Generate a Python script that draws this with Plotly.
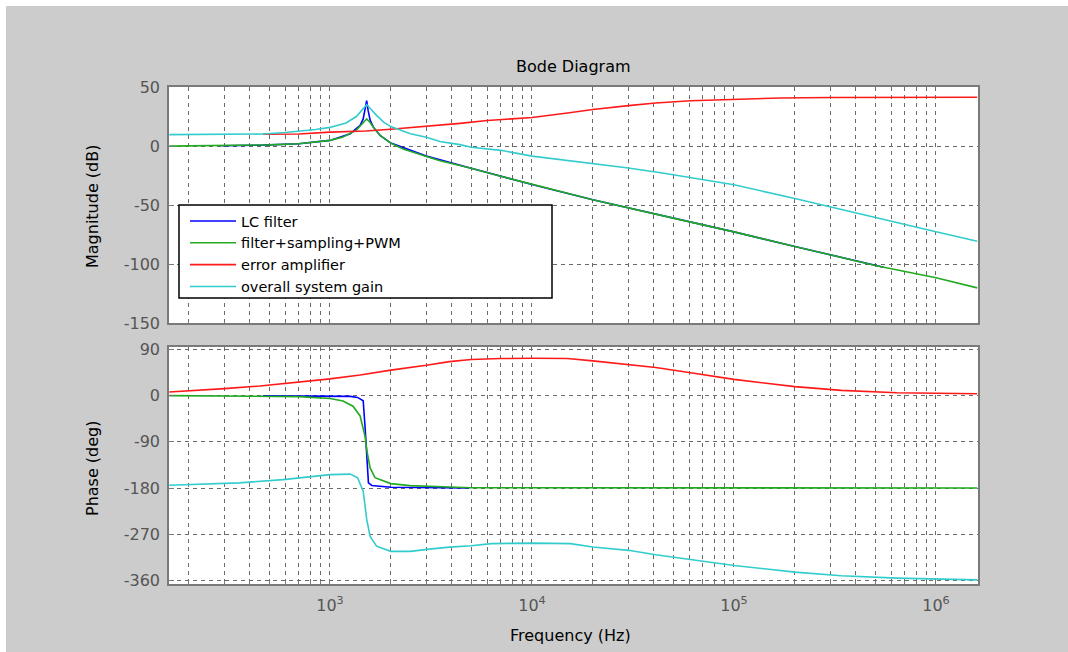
import plotly.graph_objects as go

# ---------------- data ----------------
SERIES_NAMES = ["LC filter", "filter+sampling+PWM", "error amplifier", "overall system gain"]
SERIES_COLORS = ["#0000ff", "#22aa22", "#ff1a1a", "#33cccc"]

# Magnitude (dB)
LC_MAG_F = [290, 466, 700, 1000, 1260, 1410, 1460, 1490, 1519, 1545, 1580, 1640, 1770, 2000,
            3000, 5000, 10000, 20000, 50000, 100000, 200000, 550000]
LC_MAG_DB = [0.3, 0.8, 2.0, 4.8, 10.5, 17.5, 23, 30, 38.5, 30, 22, 16, 9, 2.5,
             -8.5, -18.8, -32.5, -45.5, -61, -72.6, -85, -102.5]

FILT_MAG_F = [160, 300, 500, 700, 850, 1000, 1160, 1260, 1350, 1410, 1470, 1520, 1580, 1640,
              1770, 1900, 2000, 2300, 2600, 3000, 3500, 4000, 5000, 7000, 10000, 20000,
              50000, 100000, 200000, 500000, 1000000, 1600000]
FILT_MAG_DB = [0, 0.3, 1.0, 2.0, 3.2, 4.8, 7.6, 10.5, 13.5, 17, 20.5, 23, 20, 16,
               9, 5, 2.5, -2.5, -5.5, -8.5, -12.5, -14.8, -18.8, -25.5, -32.5, -45.5,
               -61, -72.6, -85, -101, -111.5, -120]

AMP_MAG_F = [466, 700, 1000, 1500, 2000, 3000, 3500, 4400, 6000, 10000, 15000, 20000, 30000,
             41000, 61000, 100000, 170000, 300000, 1600000]
AMP_MAG_DB = [10, 10.2, 11.8, 12.8, 14.2, 16.5, 17.6, 19.2, 21.6, 24.2, 28, 31, 34.2,
              36.5, 38.4, 39.8, 40.7, 41.1, 41.3]

SYS_MAG_F = [160, 400, 466, 600, 710, 850, 1000, 1200, 1350, 1450, 1520, 1600, 1700, 1850,
             2000, 2500, 3000, 3500, 4400, 5000, 7000, 10000, 15000, 20000, 30000, 45000,
             70000, 100000, 200000, 490000, 1000000, 1600000]
SYS_MAG_DB = [9.7, 9.8, 10.2, 11.5, 12.5, 14, 15.8, 19.5, 25, 30.5, 35, 31, 26, 20,
              16.5, 10.5, 7.5, 3.8, 1.2, -1, -3.6, -8.5, -12, -14.6, -18.5, -23,
              -28.5, -32.8, -44.3, -60.3, -72.5, -80.5]

# Phase (deg)
LC_PH_F = [466, 1000, 1260, 1370, 1460, 1490, 1520, 1550, 1610, 2000, 4900]
LC_PH_DEG = [-1, -1.5, -2, -4, -10.5, -59, -105, -170, -175, -178.6, -180]

FILT_PH_F = [160, 400, 700, 1000, 1160, 1300, 1410, 1490, 1530, 1580, 1670, 2000, 2490,
             3900, 5000, 1600000]
FILT_PH_DEG = [-0.5, -1, -2.5, -6, -11, -21, -40, -79, -112, -141, -160, -171.4, -175.3,
               -178, -179.5, -180]

AMP_PH_F = [160, 227, 300, 450, 658, 1000, 1410, 2000, 3000, 3900, 5000, 7000, 10000,
            15000, 20000, 30000, 41000, 61000, 100000, 200000, 340000, 640000, 1600000]
AMP_PH_DEG = [6.5, 9.7, 13, 18.2, 24.7, 32, 39.6, 49, 58.4, 65.5, 69.5, 71.5, 72,
              71.5, 67, 60.4, 54, 44, 31, 17, 9.7, 5.2, 3]

SYS_PH_F = [160, 356, 587, 1000, 1260, 1370, 1460, 1520, 1580, 1700, 2000, 2500, 3100,
            3900, 5000, 6300, 10000, 15500, 20000, 30000, 41000, 61000, 100000, 200000,
            340000, 640000, 1600000]
SYS_PH_DEG = [-174.5, -170, -163.6, -154, -153, -160, -186, -241, -274, -293, -303, -303,
              -298.6, -294.7, -292, -288, -287, -288, -294.7, -301, -309.6, -319.4,
              -330.4, -343.4, -350.5, -355, -358.3]

MAG_TICKS = [50, 0, -50, -100, -150]
PHASE_TICKS = [90, 0, -90, -180, -270, -360]
FREQ_DECADES = [1e3, 1e4, 1e5, 1e6]
FREQ_DECADE_LABELS = ["10<sup>3</sup>", "10<sup>4</sup>", "10<sup>5</sup>", "10<sup>6</sup>"]

TITLE = "Bode Diagram"
MAG_LABEL = "Magnitude (dB)"
PHASE_LABEL = "Phase (deg)"
FREQ_LABEL = "Frequency (Hz)"

# ---------------- layout geometry ----------------
W, H = 1068, 652
L, R, T, B = 169, 90, 87, 68
PW, PH = W - L - R, H - T - B
BG = "#cccccc"
GRID = "#6a6a6a"
FRAME = "#7a7a7a"
FONT = "DejaVu Sans"
TICKFONT = dict(family=FONT, size=16, color="#555555")


def pxx(x):
    return (x - L) / PW


def pxy(y):
    return (H - B - y) / PH


mag_series = [(LC_MAG_F, LC_MAG_DB), (FILT_MAG_F, FILT_MAG_DB), (AMP_MAG_F, AMP_MAG_DB), (SYS_MAG_F, SYS_MAG_DB)]
ph_series = [(LC_PH_F, LC_PH_DEG), (FILT_PH_F, FILT_PH_DEG), (AMP_PH_F, AMP_PH_DEG), (SYS_PH_F, SYS_PH_DEG)]

fig = go.Figure()
for name, color, (mf, mv), (pf, pv) in zip(SERIES_NAMES, SERIES_COLORS, mag_series, ph_series):
    fig.add_trace(go.Scatter(x=mf, y=mv, mode="lines", name=name, legendgroup=name,
                             line=dict(color=color, width=1.6), xaxis="x", yaxis="y"))
    fig.add_trace(go.Scatter(x=pf, y=pv, mode="lines", name=name, legendgroup=name, showlegend=False,
                             line=dict(color=color, width=1.6), xaxis="x2", yaxis="y2"))

minor_vals = [m * 10 ** e for e in range(2, 7) for m in range(2, 10)]
minor_vals = [v for v in minor_vals if 160 < v < 1.6e6]

common_x = dict(type="log", range=[2.203, 6.208], showline=True, linecolor=FRAME, linewidth=1.5,
                mirror=True, ticks="inside", ticklen=5, tickcolor=FRAME,
                tickvals=FREQ_DECADES, showgrid=True, gridcolor=GRID, griddash="4px,4px", gridwidth=1,
                minor=dict(tickvals=minor_vals, ticks="inside", ticklen=3, tickcolor=FRAME,
                           showgrid=True, gridcolor=GRID, griddash="4px,4px", gridwidth=1),
                zeroline=False)
common_y = dict(showline=True, linecolor=FRAME, linewidth=1.5, mirror=True, ticks="inside",
                ticklen=5, tickcolor=FRAME, showgrid=True, gridcolor=GRID, griddash="4px,4px",
                gridwidth=1, zeroline=False, tickfont=TICKFONT, ticklabelstandoff=4)

fig.update_layout(
    width=W, height=H,
    margin=dict(l=L, r=R, t=T, b=B, pad=0),
    paper_bgcolor=BG, plot_bgcolor="white",
    font=dict(family=FONT, size=16, color="black"),
    xaxis=dict(common_x, domain=[0, 1], anchor="y", showticklabels=False),
    yaxis=dict(common_y, domain=[pxy(323.3), 1], anchor="x", range=[-150, 50],
               tickvals=MAG_TICKS, ticktext=[str(v) for v in MAG_TICKS]),
    xaxis2=dict(common_x, domain=[0, 1], anchor="y2", ticktext=FREQ_DECADE_LABELS,
                tickfont=TICKFONT, ticklabelstandoff=6),
    yaxis2=dict(common_y, domain=[0, pxy(346.7)], anchor="x2", range=[-366.4, 94.5],
                tickvals=PHASE_TICKS, ticktext=[str(v) for v in PHASE_TICKS]),
    showlegend=True,
    legend=dict(x=pxx(185), y=pxy(205), xanchor="left", yanchor="top",
                bgcolor="rgba(0,0,0,0)", borderwidth=0, itemwidth=46,
                font=dict(family=FONT, size=14.5, color="black"), tracegroupgap=0),
    shapes=[
        # legend box
        dict(type="rect", xref="paper", yref="paper", x0=pxx(179), x1=pxx(552), y0=pxy(298), y1=pxy(205),
             fillcolor="white", line=dict(color="black", width=1.5), layer="above"),
        # white border strips at top and left of the figure
        dict(type="rect", xref="paper", yref="paper", x0=pxx(0), x1=pxx(W), y0=pxy(6), y1=pxy(0),
             fillcolor="white", line=dict(width=0), layer="below"),
        dict(type="rect", xref="paper", yref="paper", x0=pxx(0), x1=pxx(6), y0=pxy(H), y1=pxy(0),
             fillcolor="white", line=dict(width=0), layer="below"),
    ],
    annotations=[
        dict(text=TITLE, xref="paper", yref="paper", x=pxx(573), y=pxy(67), showarrow=False,
             xanchor="center", yanchor="middle", font=dict(family=FONT, size=16, color="black")),
        dict(text=MAG_LABEL, xref="paper", yref="paper", x=pxx(92), y=pxy(207), showarrow=False,
             textangle=-90, xanchor="center", yanchor="middle", font=dict(family=FONT, size=16, color="black")),
        dict(text=PHASE_LABEL, xref="paper", yref="paper", x=pxx(92), y=pxy(468), showarrow=False,
             textangle=-90, xanchor="center", yanchor="middle", font=dict(family=FONT, size=16, color="black")),
        dict(text=FREQ_LABEL, xref="paper", yref="paper", x=pxx(570), y=pxy(635), showarrow=False,
             xanchor="center", yanchor="middle", font=dict(family=FONT, size=16, color="black")),
    ],
)

fig.write_html("out.html", config={"displayModeBar": False},
               post_script="document.documentElement.style.background='#cccccc';"
                           "document.body.style.margin='0';document.body.style.overflow='hidden';"
                           "document.body.style.background='#cccccc';")
